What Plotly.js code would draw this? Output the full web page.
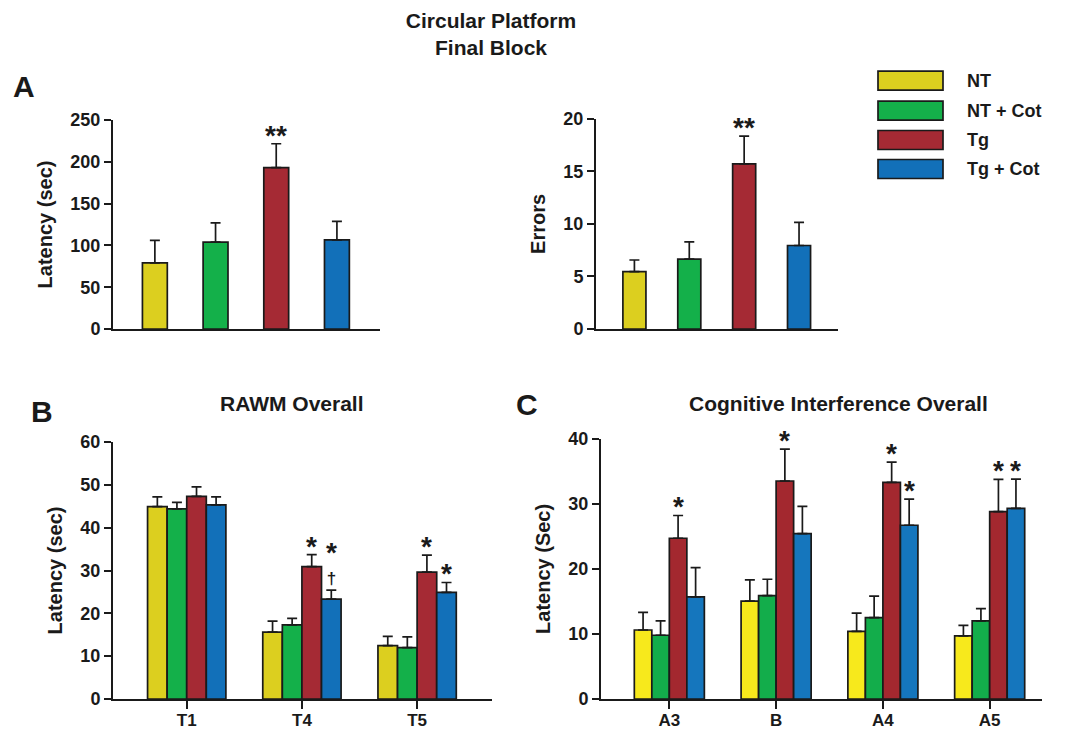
<!DOCTYPE html>
<html>
<head>
<meta charset="utf-8">
<script src="https://cdn.plot.ly/plotly-3.0.1.min.js"></script>
<style>html,body{margin:0;padding:0;background:#fff;}#chart{width:1073px;height:733px;}</style>
</head>
<body>
<div id="chart"></div>
<script>
// ---------------- DATA ----------------
const groups = ['NT', 'NT + Cot', 'Tg', 'Tg + Cot'];

// Panel A: Circular Platform, Final Block
const latencyMean = [79, 104, 193, 106.5];
const latencySem  = [27, 23, 28.6, 22.3];
const latencySig  = ['', '', '**', ''];
const errorsMean  = [5.46, 6.64, 15.7, 7.94];
const errorsSem   = [1.1, 1.65, 2.65, 2.2];
const errorsSig   = ['', '', '**', ''];

// Panel B: RAWM Overall
const rawmTrials = ['T1', 'T4', 'T5'];
const rawmMean = [
  [44.9, 15.6, 12.45],   // NT
  [44.4, 17.3, 12.0],    // NT + Cot
  [47.3, 30.9, 29.6],    // Tg
  [45.3, 23.3, 24.9]     // Tg + Cot
];
const rawmSem = [
  [2.3, 2.6, 2.15],
  [1.5, 1.5, 2.5],
  [2.2, 2.8, 4.0],
  [1.9, 2.1, 2.3]
];
// '*' = vs NT, '†' = vs Tg (stacked under the star)
const rawmSig = [
  ['', '', ''],
  ['', '', ''],
  ['', '*', '*'],
  ['', '*†', '*']
];

// Panel C: Cognitive Interference Overall
const cogTrials = ['A3', 'B', 'A4', 'A5'];
const cogMean = [
  [10.6, 15.05, 10.4, 9.7],
  [9.8, 15.9, 12.5, 12.0],
  [24.7, 33.5, 33.3, 28.8],
  [15.7, 25.4, 26.7, 29.3]
];
const cogSem = [
  [2.7, 3.25, 2.8, 1.6],
  [2.2, 2.5, 3.3, 1.9],
  [3.5, 4.9, 3.1, 4.95],
  [4.5, 4.2, 4.0, 4.5]
];
const cogSig = [
  ['', '', '', ''],
  ['', '', '', ''],
  ['*', '*', '*', '*'],
  ['', '', '*', '*']
];

// ---------------- STYLE ----------------
const colorsAB = ['#dccf1f', '#14b04a', '#a52a34', '#1270b9'];
const colorsC  = ['#f7e91c', '#13ad4b', '#a3282f', '#1576bd'];
const FONT = 'Liberation Sans, Arial, Helvetica, sans-serif';
const W = 1073, H = 733;
const px = v => v / W;
const py = v => 1 - v / H;
const outline = {color: '#1a1a1a', width: 1.7};
const errStyle = (sem) => ({type: 'data', symmetric: false, array: sem,
  arrayminus: sem.map(() => 0), color: '#1a1a1a', thickness: 1.7, width: 5});

const traces = [];
const annotations = [];
const starFont = {family: FONT, size: 28, color: '#1a1a1a', weight: 700};
const stackFont = {family: FONT, size: 17, color: '#1a1a1a', weight: 700};

function addStars(xref, yref, xs, tops, sig) {
  sig.forEach((s, i) => {
    if (!s) return;
    const hasDagger = s.indexOf('†') >= 0;
    if (hasDagger) {
      const stars = s.replace('†', '');
      annotations.push({xref: xref, yref: yref, x: xs[i], y: tops[i],
        text: '<span style="font-size:28px">' + stars + '</span><br>†',
        showarrow: false, yanchor: 'bottom', xanchor: 'center', yshift: 0,
        font: stackFont});
    } else {
      annotations.push({xref: xref, yref: yref, x: xs[i], y: tops[i], text: s,
        showarrow: false, yanchor: 'bottom', xanchor: 'center',
        yshift: -9, font: starFont});
    }
  });
}

// Panel A left
const idxA = groups.map((g, i) => i);
traces.push({type: 'bar', x: idxA, y: latencyMean, width: 0.41, xaxis: 'x', yaxis: 'y',
  marker: {color: colorsAB, line: outline}, error_y: errStyle(latencySem),
  showlegend: false, hoverinfo: 'y'});
addStars('x', 'y', idxA, latencyMean.map((m, i) => m + latencySem[i]), latencySig);

// Panel A right
traces.push({type: 'bar', x: idxA, y: errorsMean, width: 0.42, xaxis: 'x2', yaxis: 'y2',
  marker: {color: colorsAB, line: outline}, error_y: errStyle(errorsSem),
  showlegend: false, hoverinfo: 'y'});
addStars('x2', 'y2', idxA, errorsMean.map((m, i) => m + errorsSem[i]), errorsSig);

// Grouped panels
function grouped(cats, means, sems, sigs, colors, groupW, xa, ya) {
  const bw = groupW / groups.length;
  const idx = cats.map((c, i) => i);
  groups.forEach((g, k) => {
    const off = -groupW / 2 + k * bw;
    traces.push({type: 'bar', name: g, x: idx, y: means[k], offset: off, width: bw,
      xaxis: xa, yaxis: ya, marker: {color: colors[k], line: outline},
      error_y: errStyle(sems[k]), showlegend: false, hoverinfo: 'y'});
    addStars(xa, ya, idx.map(i => i + off + bw / 2),
      means[k].map((m, i) => m + sems[k][i]), sigs[k]);
  });
}
grouped(rawmTrials, rawmMean, rawmSem, rawmSig, colorsAB, 0.68, 'x3', 'y3');
grouped(cogTrials, cogMean, cogSem, cogSig, colorsC, 0.656, 'x4', 'y4');

// Legend drawn as boxes + labels
const shapes = [];
const legendRows = [80.7, 110.7, 140, 169];
groups.forEach((g, k) => {
  shapes.push({type: 'rect', xref: 'paper', yref: 'paper',
    x0: px(878), x1: px(943), y0: py(legendRows[k] + 9.5), y1: py(legendRows[k] - 9.5),
    fillcolor: colorsAB[k], line: {color: '#1a1a1a', width: 1.7}});
  annotations.push({xref: 'paper', yref: 'paper', x: px(965), y: py(legendRows[k]),
    xanchor: 'left', yanchor: 'middle', text: g, showarrow: false,
    font: {family: FONT, size: 18, color: '#1a1a1a', weight: 700}});
});

// Panel letters & titles
const letterFont = {family: FONT, size: 30, color: '#1a1a1a', weight: 700};
const titleFont = {family: FONT, size: 21, color: '#1a1a1a', weight: 700};
annotations.push({xref: 'paper', yref: 'paper', x: px(24), y: py(87), text: 'A', showarrow: false, xanchor: 'center', yanchor: 'middle', font: letterFont});
annotations.push({xref: 'paper', yref: 'paper', x: px(42), y: py(411), text: 'B', showarrow: false, xanchor: 'center', yanchor: 'middle', font: letterFont});
annotations.push({xref: 'paper', yref: 'paper', x: px(527), y: py(404), text: 'C', showarrow: false, xanchor: 'center', yanchor: 'middle', font: letterFont});
annotations.push({xref: 'paper', yref: 'paper', x: px(292), y: py(403), text: 'RAWM Overall', showarrow: false, xanchor: 'center', yanchor: 'middle', font: titleFont});
annotations.push({xref: 'paper', yref: 'paper', x: px(838), y: py(403), text: 'Cognitive Interference Overall', showarrow: false, xanchor: 'center', yanchor: 'middle', font: titleFont});

const tickFont = {family: FONT, size: 18, color: '#1a1a1a', weight: 700};
const xTickFont = {family: FONT, size: 17, color: '#1a1a1a', weight: 700};
const axTitleFont = {family: FONT, size: 20, color: '#1a1a1a', weight: 700};
function yax(domTop, domBot, rng, dtick, title, anchor) {
  return {domain: [py(domBot), py(domTop)], range: rng, dtick: dtick, tick0: 0,
    anchor: anchor, showline: true, linecolor: '#1a1a1a', linewidth: 2,
    ticks: 'outside', ticklen: 7, tickwidth: 2, tickcolor: '#1a1a1a',
    showgrid: false, zeroline: false, tickfont: tickFont, fixedrange: true,
    title: {text: title, font: axTitleFont, standoff: 12}, automargin: false};
}
function xax(l, r, rng, anchor, cats) {
  const a = {domain: [px(l), px(r)], range: rng, anchor: anchor,
    showline: true, linecolor: '#1a1a1a', linewidth: 2, showgrid: false,
    zeroline: false, fixedrange: true, automargin: false, tickfont: xTickFont};
  if (cats) {
    a.tickvals = cats.map((c, i) => i); a.ticktext = cats;
    a.ticks = 'outside'; a.ticklen = 8; a.tickwidth = 2; a.tickcolor = '#1a1a1a';
    a.ticklabelstandoff = -3;
  } else {
    a.showticklabels = false; a.ticks = '';
  }
  return a;
}

const layout = {
  width: W, height: H, autosize: false,
  margin: {l: 0, r: 0, t: 0, b: 0},
  paper_bgcolor: '#fff', plot_bgcolor: 'rgba(0,0,0,0)',
  font: {family: FONT, color: '#1a1a1a'},
  title: {text: 'Circular Platform<br>Final Block', x: px(491), xanchor: 'center',
    y: py(28), yanchor: 'middle', xref: 'paper', yref: 'paper',
    font: {family: FONT, size: 21, color: '#1a1a1a', weight: 700}},
  showlegend: false,
  barmode: 'group',
  xaxis:  xax(113, 380, [-0.69, 3.71], 'y'),
  yaxis:  yax(120, 329, [0, 250], 50, 'Latency (sec)', 'x'),
  xaxis2: xax(596, 838, [-0.70, 3.71], 'y2'),
  yaxis2: yax(118.7, 329, [0, 20], 5, 'Errors', 'x2'),
  xaxis3: xax(113, 492, [-0.64, 2.65], 'y3', rawmTrials),
  yaxis3: yax(442, 699, [0, 60], 10, 'Latency (sec)', 'x3'),
  xaxis4: xax(601, 1042, [-0.64, 3.49], 'y4', cogTrials),
  yaxis4: yax(438.7, 699, [0, 40], 10, 'Latency (Sec)', 'x4'),
  shapes: shapes,
  annotations: annotations
};

Plotly.newPlot('chart', traces, layout, {displayModeBar: false, staticPlot: true});
</script>
</body>
</html>
